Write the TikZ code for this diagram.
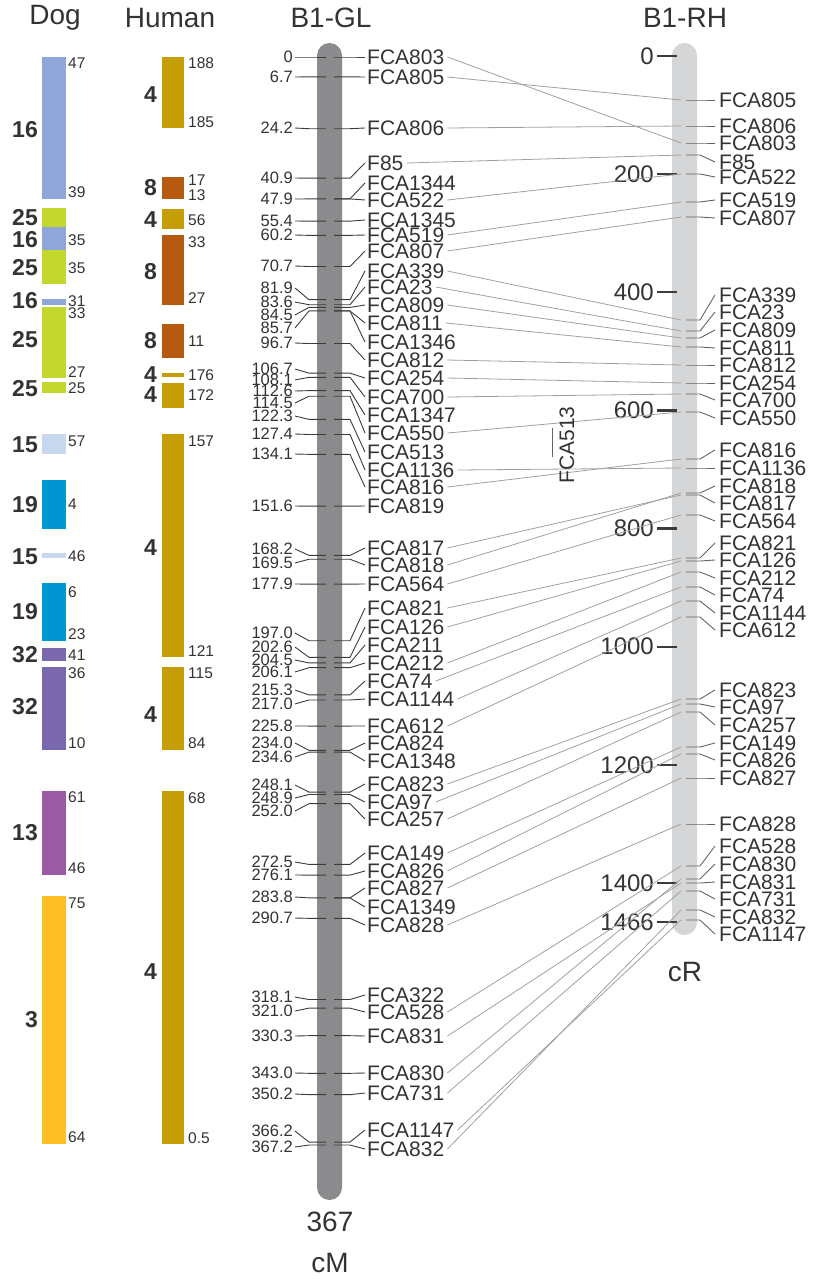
\documentclass[tikz,border=0pt]{standalone}
\usepackage{fontspec}
\setmainfont{Liberation Sans}
\definecolor{textc}{HTML}{333333}
\definecolor{dblue}{HTML}{8EA6D8}
\definecolor{dgreen}{HTML}{C2D82E}
\definecolor{dlblue}{HTML}{C8D8EF}
\definecolor{dcyan}{HTML}{0096D1}
\definecolor{dpurple}{HTML}{7A68AF}
\definecolor{dmag}{HTML}{9B5BA4}
\definecolor{dyel}{HTML}{FDBF23}
\definecolor{hgold}{HTML}{C59E05}
\definecolor{horange}{HTML}{B65A10}
\definecolor{glbar}{HTML}{8B8B8E}
\definecolor{rhbar}{HTML}{D5D6D8}
\definecolor{leadc}{HTML}{3C3C3C}
\definecolor{crossc}{HTML}{A0A0A0}
\begin{document}
\begin{tikzpicture}[x=1pt,y=-1pt]
\tikzset{
  txt/.style={text=textc, inner sep=0pt},
  hdr/.style={txt, font=\fontsize{28}{28}\selectfont},
  glnum/.style={txt, font=\fontsize{16.5}{16.5}\selectfont, anchor=east},
  mk/.style={txt, font=\fontsize{21}{21}\selectfont, anchor=west},
  scl/.style={txt, font=\fontsize{24}{24}\selectfont, anchor=east},
  small/.style={txt, font=\fontsize{15.5}{15.5}\selectfont, anchor=west},
  big/.style={txt, font=\fontsize{23}{23}\selectfont\bfseries, anchor=east},
  lead/.style={draw=leadc, line width=0.9pt},
  lead2/.style={draw=leadc!80, line width=0.9pt},
  cross/.style={draw=crossc, line width=0.8pt},
}
\useasboundingbox (0,0) rectangle (812,1279);
% headers
\node[hdr] (hdog) at (55,18) {Dog};
\node[hdr] (hhum) at (170,18) {Human};
\node[hdr] (hgl) at (331,18) {B1-GL};
\node[hdr] (hrh) at (685,18) {B1-RH};
% dog bars
\foreach \a/\b/\c in {57/199/dblue, 208/227/dgreen, 227/250/dblue, 250/284/dgreen, 299/305/dblue, 307/378/dgreen, 382/393/dgreen, 434/454/dlblue, 480/529/dcyan, 553/558/dlblue, 583/641/dcyan, 648/661/dpurple, 667/750/dpurple, 791/875/dmag, 896/1144/dyel}
  \fill[\c] (42,\a) rectangle (66,\b);
\foreach \y/\t [count=\i] in {63/47, 192/39, 240/35, 268/35, 301/31, 313/33, 372/27, 388/25, 441/57, 504/4, 556/46, 592/6, 634/23, 655/41, 673/36, 743/10, 797/61, 868/46, 903/75, 1137/64}
  \node[small] (ds\i) at (68,\y) {\t};
\foreach \y/\t [count=\i] in {130/16, 218/25, 240/16, 268/25, 301/16, 340/25, 389/25, 445/15, 505/19, 557/15, 612/19, 655/32, 707/32, 833/13, 1020/3}
  \node[big] (db\i) at (38,\y) {\t};
% human bars
\foreach \a/\b/\c in {57/128/hgold, 177/199/horange, 209/229/hgold, 235/305/horange, 324/358/horange, 373/377/hgold, 383/408/hgold, 434/657/hgold, 667/750/hgold, 791/1144/hgold}
  \fill[\c] (162,\a) rectangle (184,\b);
\foreach \y/\t [count=\i] in {63/188, 122/185, 180/17, 195/13, 220/56, 242/33, 298/27, 341/11, 375/176, 395/172, 441/157, 651/121, 673/115, 743/84, 798/68, 1138/0.5}
  \node[small] (hs\i) at (188,\y) {\t};
\foreach \y/\t [count=\i] in {95/4, 188/8, 220/4, 272/8, 341/8, 375/4, 395/4, 548/4, 715/4, 972/4}
  \node[big] (hb\i) at (157,\y) {\t};
% chromosome bars
\fill[glbar, rounded corners=12.5pt] (317,43) rectangle (342,1200);
\fill[rhbar, rounded corners=12.5pt] (672,43) rectangle (697,935);
\node[hdr] (gl367) at (330,1222) {367};
\node[hdr] (glcm) at (330,1263) {cM};
\node[hdr] (rhcr) at (685,972) {cR};
% GL numbers
\foreach \v/\ny [count=\i] in {0/57, 6.7/77, 24.2/128, 40.9/178, 47.9/199, 55.4/221, 60.2/235, 70.7/266, 81.9/288, 83.6/302, 84.5/315, 85.7/328, 96.7/343, 106.7/369, 108.1/380, 112.6/391, 114.5/403, 122.3/416, 127.4/434, 134.1/454, 151.6/506, 168.2/549, 169.5/563, 177.9/584, 197.0/633, 202.6/647, 204.5/660, 206.1/672, 215.3/690, 217.0/704, 225.8/726, 234.0/743, 234.6/757, 248.1/785, 248.9/798, 252.0/811, 272.5/862, 276.1/875, 283.8/897, 290.7/918, 318.1/997, 321.0/1011, 330.3/1036, 343.0/1073, 350.2/1094, 366.2/1131, 367.2/1147}{
  \pgfmathsetmacro\my{57+2.963*\v}
  \node[glnum] (gn\i) at (293,\ny) {\v};
  \draw[lead] ([xshift=2pt]gn\i.east) -- (309,\my) -- (326,\my);
}
% GL marker names
\foreach \v/\nm/\ly in {0/FCA803/57, 6.7/FCA805/77, 24.2/FCA806/128, 40.9/F85/163, 47.9/FCA1344/183, 47.9/FCA522/200, 55.4/FCA1345/220, 60.2/FCA519/235, 70.7/FCA807/251, 81.9/FCA339/271, 83.6/FCA23/287, 84.5/FCA809/305, 85.7/FCA811/323, 85.7/FCA1346/342, 96.7/FCA812/360, 106.7/FCA254/378, 108.1/FCA700/397, 112.6/FCA1347/415, 114.5/FCA550/433, 122.3/FCA513/452, 127.4/FCA1136/470, 134.1/FCA816/487, 151.6/FCA819/506, 168.2/FCA817/548, 169.5/FCA818/565, 177.9/FCA564/584, 197.0/FCA821/608, 202.6/FCA126/627, 204.5/FCA211/645, 206.1/FCA212/663, 215.3/FCA74/681, 217.0/FCA1144/699, 225.8/FCA612/726, 234.0/FCA824/743, 234.6/FCA1348/761, 248.1/FCA823/784, 248.9/FCA97/802, 252.0/FCA257/819, 272.5/FCA149/853, 276.1/FCA826/871, 283.8/FCA827/888, 283.8/FCA1349/907, 290.7/FCA828/925, 318.1/FCA322/995, 321.0/FCA528/1012, 330.3/FCA831/1036, 343.0/FCA830/1073, 350.2/FCA731/1093, 366.2/FCA1147/1130, 367.2/FCA832/1149}{
  \pgfmathsetmacro\my{57+2.963*\v}
  \node[mk] (gl-\nm) at (367,\ly) {\nm};
  \draw[lead] (334,\my) -- (350,\my) -- ([xshift=-2pt]gl-\nm.west);
}
% RH scale
\foreach \v [count=\i] in {0,200,400,600,800,1000,1200,1400,1466}{
  \pgfmathsetmacro\sy{56+0.5907*\v}
  \node[scl] (rs\i) at (654,\sy) {\v};
  \draw[leadc, line width=2.2pt] ([xshift=3pt]rs\i.east) -- (677,\sy);
}
% RH markers
\foreach \nm/\my/\ly in {FCA805/100/100, FCA806/126/126, FCA803/143/143, F85/155/162, FCA522/174/177, FCA519/202/200, FCA807/217/218, FCA339/320/295, FCA23/331/312, FCA809/338/330, FCA811/347/348, FCA812/365/365, FCA254/383/383, FCA700/394/400, FCA550/412/418, FCA816/459/450, FCA1136/468/468, FCA818/493/486, FCA817/495/503, FCA564/515/521, FCA821/558/543, FCA126/561/560, FCA212/572/578, FCA74/587/595, FCA1144/601/613, FCA612/617/630, FCA823/699/690, FCA97/704/707, FCA257/712/725, FCA149/747/743, FCA826/754/760, FCA827/778/778, FCA828/824/824, FCA528/866/846, FCA830/879/864, FCA831/883/882, FCA731/891/899, FCA832/910/917, FCA1147/920/934}{
  \node[mk] (rh-\nm) at (719,\ly) {\nm};
  \coordinate (rhm-\nm) at (681,\my);
  \draw[lead2] (686,\my) -- (700,\my) -- ([xshift=-4pt]rh-\nm.west);
}
% cross connections
\foreach \nm in {FCA803, FCA805, FCA806, F85, FCA522, FCA519, FCA807, FCA339, FCA23, FCA809, FCA811, FCA812, FCA254, FCA700, FCA550, FCA816, FCA1136, FCA818, FCA817, FCA564, FCA821, FCA126, FCA212, FCA74, FCA1144, FCA612, FCA823, FCA97, FCA257, FCA149, FCA826, FCA827, FCA828, FCA528, FCA830, FCA831, FCA731, FCA832, FCA1147}
  \draw[cross] ([xshift=3pt]gl-\nm.east) -- (rhm-\nm);
% unplaced FCA513
\node[mk, anchor=center, rotate=90] (rh513) at (567,445) {FCA513};
\coordinate (u513a) at (552,428);
\coordinate (u513b) at (552,457);
\draw[lead2] (u513a) -- (u513b);
\end{tikzpicture}
\end{document}
